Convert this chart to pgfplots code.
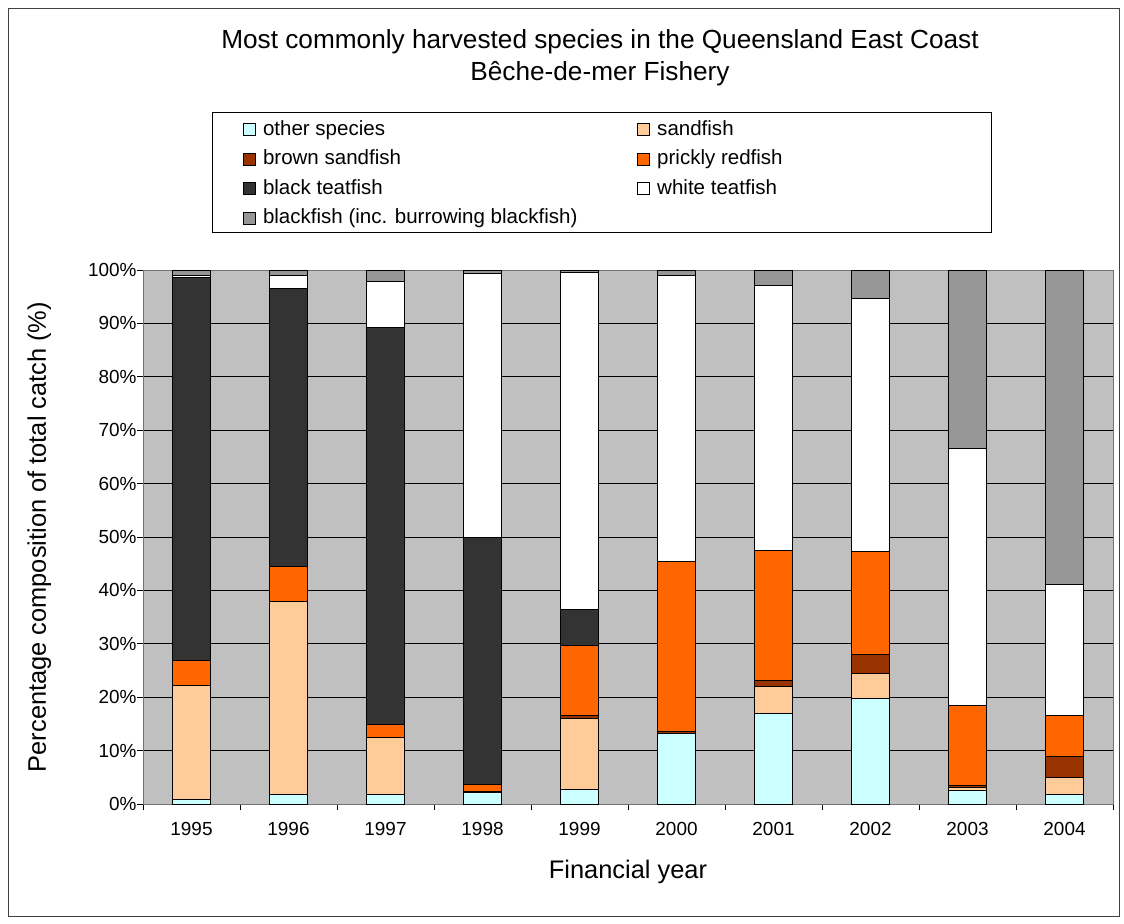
\documentclass[border=0pt]{standalone}
\usepackage{pgfplots}
\usepackage{pgfplotstable}
\pgfplotsset{compat=1.18}
\usepackage{fontspec}
\setmainfont{Liberation Sans}

\definecolor{cOther}{HTML}{CCFFFF}
\definecolor{cSand}{HTML}{FFCC99}
\definecolor{cBrown}{HTML}{993300}
\definecolor{cPrickly}{HTML}{FF6600}
\definecolor{cBlackTeat}{HTML}{333333}
\definecolor{cWhiteTeat}{HTML}{FFFFFF}
\definecolor{cBlackfish}{HTML}{969696}
\definecolor{cPlot}{HTML}{C0C0C0}

% Percentage composition of the catch by financial year (0 = 1995 ... 9 = 2004)
\pgfplotstableread{
x other sand brown prickly blackteat whiteteat blackfish
0 0.9  21.3 0.0 4.6  71.8 0.4  1.0
1 1.7  36.2 0.0 6.5  52.2 2.3  1.1
2 1.7  10.8 0.0 2.3  74.5 8.6  2.1
3 2.1  0.0  0.3 1.2  46.4 49.3 0.7
4 2.8  13.3 0.4 13.2 6.8  63.1 0.4
5 13.2 0.0  0.3 31.9 0.0  53.5 1.1
6 16.9 5.1  1.1 24.3 0.0  49.7 2.9
7 19.8 4.7  3.5 19.2 0.0  47.4 5.4
8 2.6  0.5  0.3 15.0 0.0  48.1 33.5
9 1.7  3.2  4.0 7.6  0.0  24.7 58.8
}\catch

\begin{document}
\begin{tikzpicture}[x=1bp,y=1bp]
\path[use as bounding box] (0,0) rectangle (1124,-924);
\draw[black!75, line width=1bp] (8,-8) rectangle (1119,-916);
\node[font=\fontsize{26.3}{32}\selectfont, align=center] at (600,-58)
  {Most commonly harvested species in the Queensland East Coast\\B\^eche-de-mer Fishery};
\draw[black, line width=0.9bp] (212,-112) rectangle (991,-232);
\begin{axis}[
  at={(143bp,-804bp)}, anchor=south west,
  scale only axis, width=970bp, height=534bp,
  ybar stacked, bar width=38.5bp,
  xmin=-0.5, xmax=9.5, ymin=0, ymax=100,
  axis background/.style={fill=cPlot},
  axis line style={draw=black!55, line width=1bp},
  xtick={0,...,9},
  xticklabels={1995,1996,1997,1998,1999,2000,2001,2002,2003,2004},
  minor xtick={-0.5,0.5,...,9.5},
  ytick={0,10,...,100},
  minor ytick={0,10,...,100},
  tick align=outside, tick pos=left,
  major tick length=0pt, minor tick length=6bp,
  minor tick style={black, line width=1bp},
  ymajorgrids, grid style={black, line width=0.9bp},
  /pgf/number format/assume math mode=true,
  yticklabel={\pgfmathprintnumber{\tick}\%},
  tick label style={font=\fontsize{19}{22}\selectfont},
  xticklabel style={yshift=-15bp},
  yticklabel style={xshift=-3bp},
  label style={font=\fontsize{25.5}{30}\selectfont},
  xlabel={Financial year},
  ylabel={Percentage composition of total catch (\%)},
  xlabel style={at={(axis description cs:0.5,-0.128)}, anchor=center},
  ylabel style={at={(axis description cs:-0.107,0.5)}, anchor=center},
  legend columns=2,
  legend cell align=left,
  legend image code/.code={\draw[#1, line width=0.8bp] (0bp,-6bp) rectangle (12bp,6bp);},
  legend style={draw=none, fill=none, at={(axis description cs:0.1031,1.2830)},
    anchor=north west, inner sep=0pt, row sep=8bp,
    font=\fontsize{20.6}{24}\selectfont,
    nodes={inner sep=1bp, text height=15bp, text depth=4.5bp},
    /tikz/every odd column/.append style={column sep=6bp},
    /tikz/every even column/.append style={column sep=59bp}},
]
\addplot[fill=cOther, draw=black, line width=1bp] table[x=x, y=other] {\catch};
\addlegendentry{other species}
\addplot[fill=cSand, draw=black, line width=1bp] table[x=x, y=sand] {\catch};
\addlegendentry{sandfish}
\addplot[fill=cBrown, draw=black, line width=1bp] table[x=x, y=brown] {\catch};
\addlegendentry{brown sandfish}
\addplot[fill=cPrickly, draw=black, line width=1bp] table[x=x, y=prickly] {\catch};
\addlegendentry{prickly redfish}
\addplot[fill=cBlackTeat, draw=black, line width=1bp] table[x=x, y=blackteat] {\catch};
\addlegendentry{black teatfish}
\addplot[fill=cWhiteTeat, draw=black, line width=1bp] table[x=x, y=whiteteat] {\catch};
\addlegendentry{white teatfish}
\addplot[fill=cBlackfish, draw=black, line width=1bp] table[x=x, y=blackfish] {\catch};
\addlegendentry{blackfish (inc. burrowing blackfish)}
\end{axis}
\end{tikzpicture}
\end{document}
